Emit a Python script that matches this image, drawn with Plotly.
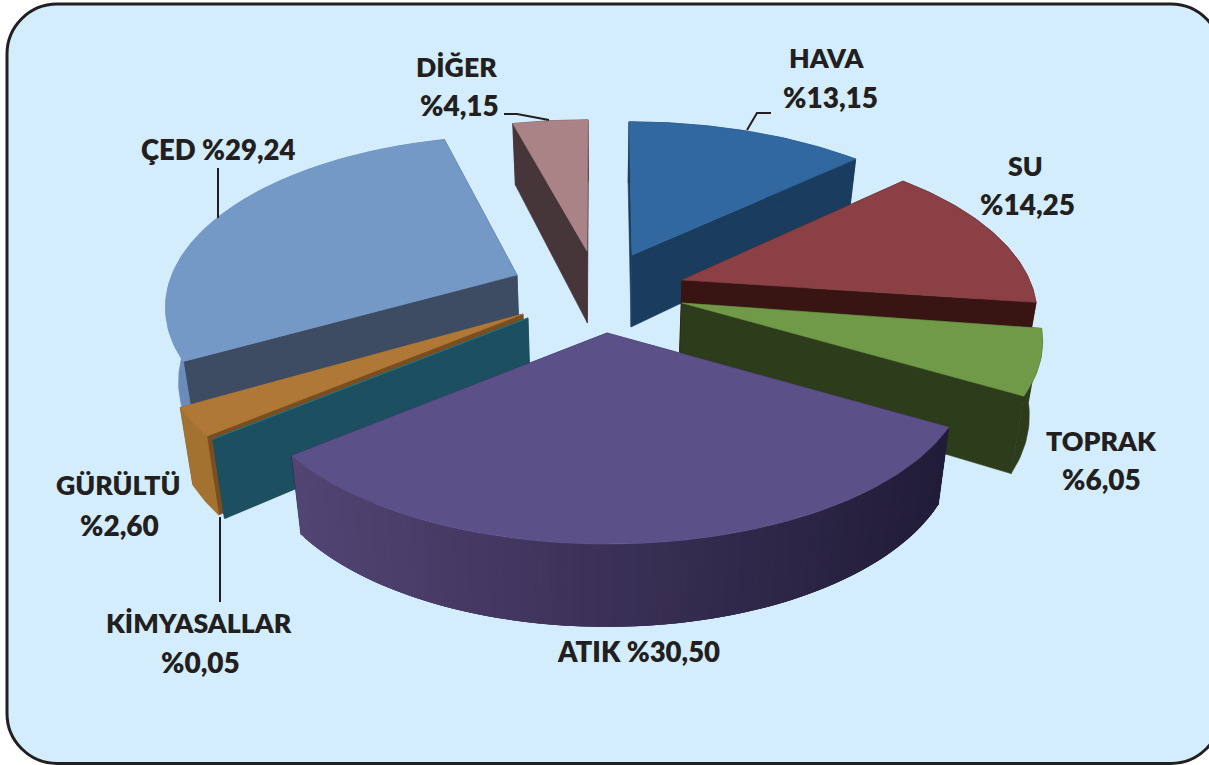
import math
import plotly.graph_objects as go

# ---- data -----------------------------------------------------------------
categories = ["HAVA", "SU", "TOPRAK", "ATIK", "KİMYASALLAR", "GÜRÜLTÜ", "ÇED", "DİĞER"]
values = [13.15, 14.25, 6.05, 30.50, 0.05, 2.60, 29.24, 4.15]

# ---- styles ---------------------------------------------------------------
top_colors = ["#31689F", "#8A4044", "#719A48", "#5C5089", "#1F7E8E", "#B07837", "#7499C7", "#AA8387"]
cut_colors = ["#1A3C5E", "#381513", "#2D3D1B", "#211C38", "#1C5060", "#7A4E1F", "#3D4C63", "#46363A"]
wall_colors = ["#1A3C5E", "#381513", "#2D3D1B", "#211C38", "#1C5060", "#A37230", "#6A8CB9", "#46363A"]
apex_px = [(632, 255), (682, 280), (682, 303), (607, 333), (528, 318), (523, 314), (517, 275), (587, 251)]
rim_xscale = [1.0, 0.975, 0.99, 0.99, 1.0, 1.0, 0.965, 1.0]
rim_shift = [(-3, 0), (0, -3), (0, 0), (0, 1), (4, 0), (3, 1), (0, -6), (1, 2)]
draw_order = [7, 0, 6, 1, 2, 5, 4, 3]
ATIK = 3
GRAD_L, GRAD_R = (82, 68, 115), (33, 28, 56)

R, C, K = 355.0, 163.0, 0.224   # projected pie: width, depth, perspective
THICK, CX = 72.0, 600.0
TEXT = "#231F20"
FONT = "Lato"

# ---- geometry from the values ---------------------------------------------
total = sum(values)
spans, a = [], -90.0
for val in values:
    b = a + val / total * 360.0
    spans.append((a, b))
    a = b


def rim(deg, i):
    u, v = math.cos(math.radians(deg)), math.sin(math.radians(deg))
    d = 1 - K * v
    return (apex_px[i][0] + rim_xscale[i] * R * u / d + rim_shift[i][0],
            apex_px[i][1] + C * v / d + rim_shift[i][1], v)


def drop(x, y, v):
    return x - (x - CX) * 0.03, y + THICK * (1 + 0.15 * v)


def arc(a0, a1, i):
    n = max(2, int(abs(a1 - a0)) + 1)
    return [rim(a0 + (a1 - a0) * j / n, i) for j in range(n + 1)]


fig = go.Figure()


def poly(pts, color, lw=0.6):
    fig.add_trace(go.Scatter(
        x=[p[0] for p in pts], y=[p[1] for p in pts], mode="lines", fill="toself",
        fillcolor=color, line=dict(color=color, width=lw), hoverinfo="skip", showlegend=False))


for i in draw_order:
    a0, a1 = spans[i]
    ax, ay = apex_px[i]
    apex_low = drop(ax, ay, 0)
    # cut faces
    for ang in (a0, a1):
        x, y, v = rim(ang, i)
        poly([(ax, ay), (x, y), drop(x, y, v), apex_low, (ax, ay)], cut_colors[i])
    # outer wall
    pts = arc(a0, a1, i)
    if i == ATIK:
        # each strip overlaps the next one, so no seams show
        for j in range(len(pts) - 1, 0, -1):
            xa = pts[j][0]
            t = min(1, max(0, (xa - 295) / 650))
            col = "rgb(%d,%d,%d)" % tuple(round(GRAD_L[c] + (GRAD_R[c] - GRAD_L[c]) * t) for c in range(3))
            mid = pts[max(0, j - 3):j + 1]
            low = [drop(*p) for p in reversed(mid)]
            poly([(p[0], p[1]) for p in mid] + low + [(mid[0][0], mid[0][1])], col, 0)
    else:
        low = [drop(*p) for p in reversed(pts)]
        poly([(p[0], p[1]) for p in pts] + low + [(pts[0][0], pts[0][1])], wall_colors[i])
    # top surface
    poly([(ax, ay)] + [(p[0], p[1]) for p in pts] + [(ax, ay)], top_colors[i])


def fmt(val):
    return "%" + f"{val:.2f}".replace(".", ",")


def label(text, x, y, size=26.7):
    fig.add_annotation(x=x, y=y, text=text, showarrow=False, xanchor="center", yanchor="middle",
                       font=dict(family=FONT, size=size, color=TEXT, weight=800))


label(categories[0], 826, 58);  label(fmt(values[0]), 830, 97, 28)
label(categories[1], 1025, 166); label(fmt(values[1]), 1027, 204, 28)
label(categories[2], 1101, 441); label(fmt(values[2]), 1101, 479, 28)
label(categories[3] + " " + fmt(values[3]), 638, 651, 27.5)
label(categories[4], 199, 623); label(fmt(values[4]), 200, 662, 28)
label(categories[5], 118, 485); label(fmt(values[5]), 119, 525, 28)
label(categories[6] + " " + fmt(values[6]), 218, 149, 27.5)
label(categories[7], 456, 67);  label(fmt(values[7]), 459, 105, 28)

# leader lines
for xs, ys in [([747, 757, 771], [130, 113, 113]),
               ([504, 517, 549], [114, 114, 120]),
               ([218, 218], [168, 218]),
               ([220, 220], [517, 602])]:
    fig.add_trace(go.Scatter(x=xs, y=ys, mode="lines", line=dict(color=TEXT, width=2),
                             hoverinfo="skip", showlegend=False))

L, T, RT, B, CR = 7, 4, 1221, 763.5, 50
H = CR * 0.45
frame = (f"M {L+CR} {T} L {RT-CR} {T} C {RT-H} {T} {RT} {T+H} {RT} {T+CR} "
         f"L {RT} {B-CR} C {RT} {B-H} {RT-H} {B} {RT-CR} {B} "
         f"L {L+CR} {B} C {L+H} {B} {L} {B-H} {L} {B-CR} "
         f"L {L} {T+CR} C {L} {T+H} {L+H} {T} {L+CR} {T} Z")
fig.update_layout(
    width=1209, height=765, margin=dict(l=0, r=0, t=0, b=0),
    paper_bgcolor="#FFFFFF", plot_bgcolor="#FFFFFF", showlegend=False,
    xaxis=dict(range=[0, 1209], visible=False, fixedrange=True),
    yaxis=dict(range=[765, 0], visible=False, fixedrange=True),
    shapes=[dict(type="path", path=frame, fillcolor="#D4EDFC",
                 line=dict(color=TEXT, width=3), layer="below")],
)
fig.write_html("out.html", config=dict(displayModeBar=False),
               post_script="document.body.style.margin='0';document.body.style.overflow='hidden';")
